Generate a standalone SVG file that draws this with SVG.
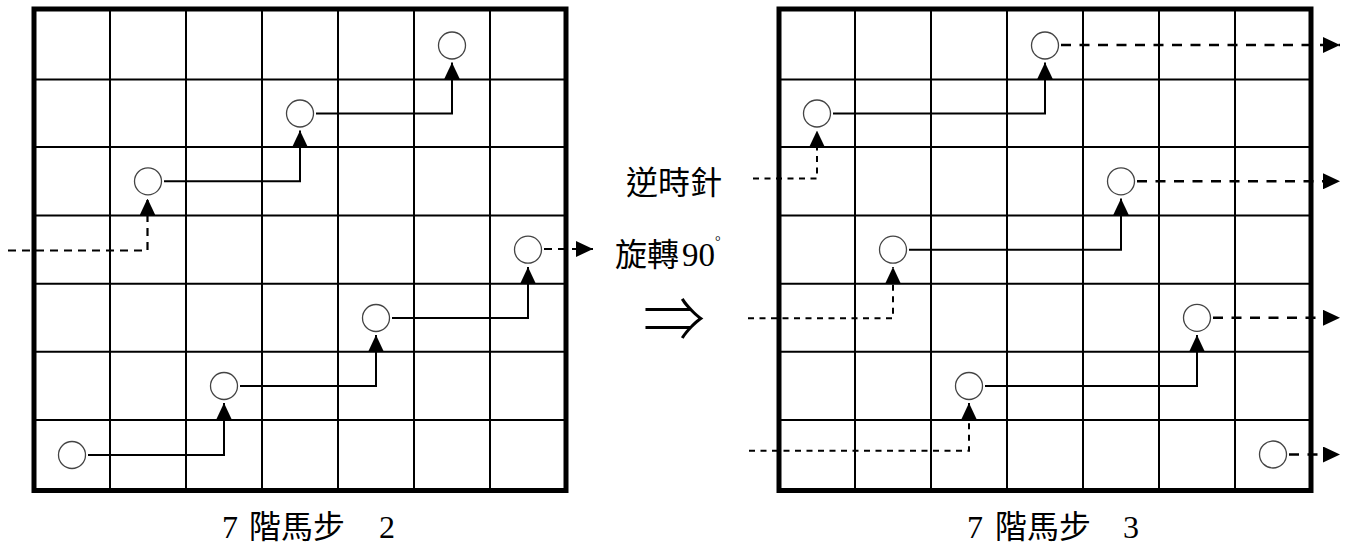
<svg xmlns="http://www.w3.org/2000/svg" width="1352" height="548" viewBox="0 0 1352 548">
<style>
.grid line{stroke:#000;stroke-width:2}
.border{fill:none;stroke:#000;stroke-width:5}
.node circle{fill:#fff;stroke:#444;stroke-width:1.3}
.solid{fill:none;stroke:#000;stroke-width:2;marker-end:url(#ah)}
.dashA{fill:none;stroke:#000;stroke-width:2.2;stroke-dasharray:8 6;marker-end:url(#ah)}
.dashIn{fill:none;stroke:#000;stroke-width:2;stroke-dasharray:6 5.5;marker-end:url(#ah)}
.dashOut{fill:none;stroke:#000;stroke-width:2.6;stroke-dasharray:10 8.5;marker-end:url(#ah)}
.lbl{font-family:"Liberation Serif","Noto Sans CJK TC",serif;font-size:32px;fill:#000}
</style>
<defs>
<marker id="ah" markerUnits="userSpaceOnUse" markerWidth="17" markerHeight="16" refX="17" refY="8" orient="auto" viewBox="0 0 17 16">
<path d="M0,0 L17,8 L0,16 z" fill="#000"/>
</marker>
</defs>
<rect width="1352" height="548" fill="#fff"/>
<g id="grid-left" class="grid">
<line x1="110" y1="9" x2="110" y2="490.5"/>
<line x1="186" y1="9" x2="186" y2="490.5"/>
<line x1="262" y1="9" x2="262" y2="490.5"/>
<line x1="338" y1="9" x2="338" y2="490.5"/>
<line x1="414" y1="9" x2="414" y2="490.5"/>
<line x1="490" y1="9" x2="490" y2="490.5"/>
<line x1="34" y1="79.5" x2="566" y2="79.5"/>
<line x1="34" y1="147" x2="566" y2="147"/>
<line x1="34" y1="215.5" x2="566" y2="215.5"/>
<line x1="34" y1="283.7" x2="566" y2="283.7"/>
<line x1="34" y1="351.7" x2="566" y2="351.7"/>
<line x1="34" y1="420" x2="566" y2="420"/>
<rect class="border" x="34" y="9" width="532" height="481.5"/>
</g>
<g id="grid-right" class="grid">
<line x1="855" y1="9" x2="855" y2="490.5"/>
<line x1="931" y1="9" x2="931" y2="490.5"/>
<line x1="1007" y1="9" x2="1007" y2="490.5"/>
<line x1="1083" y1="9" x2="1083" y2="490.5"/>
<line x1="1159" y1="9" x2="1159" y2="490.5"/>
<line x1="1235" y1="9" x2="1235" y2="490.5"/>
<line x1="779" y1="79.5" x2="1311" y2="79.5"/>
<line x1="779" y1="147" x2="1311" y2="147"/>
<line x1="779" y1="215.5" x2="1311" y2="215.5"/>
<line x1="779" y1="283.7" x2="1311" y2="283.7"/>
<line x1="779" y1="351.7" x2="1311" y2="351.7"/>
<line x1="779" y1="420" x2="1311" y2="420"/>
<rect class="border" x="779" y="9" width="532" height="481.5"/>
</g>
<g id="connectors">
<path class="solid" d="M88,455 H224 V403"/>
<path class="solid" d="M240,386 H376 V335"/>
<path class="solid" d="M392,318 H528 V267"/>
<path class="solid" d="M164,181.3 H300 V130.5"/>
<path class="solid" d="M316,113.5 H452 V62.5"/>
<path class="dashA" d="M8,250.5 H147.5 V198.5"/>
<path class="dashA" d="M544,249 H593"/>
<path class="solid" d="M833,113.5 H1045 V62.5"/>
<path class="solid" d="M909,249.7 H1121 V198.5"/>
<path class="solid" d="M985,386 H1197 V335"/>
<path class="dashIn" d="M753,178.5 H817 V130.5"/>
<path class="dashIn" d="M748,318.3 H893 V267"/>
<path class="dashIn" d="M749,450.8 H969 V403"/>
<path class="dashOut" d="M1061,45 H1340"/>
<path class="dashOut" d="M1137,181.3 H1340"/>
<path class="dashOut" d="M1213,317.8 H1340"/>
<path class="dashOut" d="M1289,454.5 H1340"/>
</g>
<g id="n-l1" class="node"><circle cx="72" cy="455" r="13.5"/></g>
<g id="n-l2" class="node"><circle cx="224" cy="386" r="13.5"/></g>
<g id="n-l3" class="node"><circle cx="376" cy="318" r="13.5"/></g>
<g id="n-l4" class="node"><circle cx="528" cy="249.7" r="13.5"/></g>
<g id="n-l5" class="node"><circle cx="148" cy="181.3" r="13.5"/></g>
<g id="n-l6" class="node"><circle cx="300" cy="113.5" r="13.5"/></g>
<g id="n-l7" class="node"><circle cx="452" cy="45.5" r="13.5"/></g>
<g id="n-r1" class="node"><circle cx="1045" cy="45.5" r="13.5"/></g>
<g id="n-r2" class="node"><circle cx="817" cy="113.5" r="13.5"/></g>
<g id="n-r3" class="node"><circle cx="1121" cy="181.3" r="13.5"/></g>
<g id="n-r4" class="node"><circle cx="893" cy="249.7" r="13.5"/></g>
<g id="n-r5" class="node"><circle cx="1197" cy="317.8" r="13.5"/></g>
<g id="n-r6" class="node"><circle cx="969" cy="386" r="13.5"/></g>
<g id="n-r7" class="node"><circle cx="1273" cy="454.5" r="13.5"/></g>
<g id="labels">
<text class="lbl" x="626" y="194">逆時針</text>
<text class="lbl" x="615" y="266">旋轉<tspan x="682" font-size="33">90</tspan><tspan x="715" dy="-20" font-size="14">°</tspan></text>
<text x="674" y="342" text-anchor="middle" font-family="Noto Sans CJK TC, sans-serif" font-weight="300" font-size="62" fill="#000">⇒</text>
<text class="lbl" x="222" y="538">7<tspan x="249">階馬步</tspan><tspan x="379">2</tspan></text>
<text class="lbl" x="967" y="538">7<tspan x="995">階馬步</tspan><tspan x="1123">3</tspan></text>
</g>
</svg>
